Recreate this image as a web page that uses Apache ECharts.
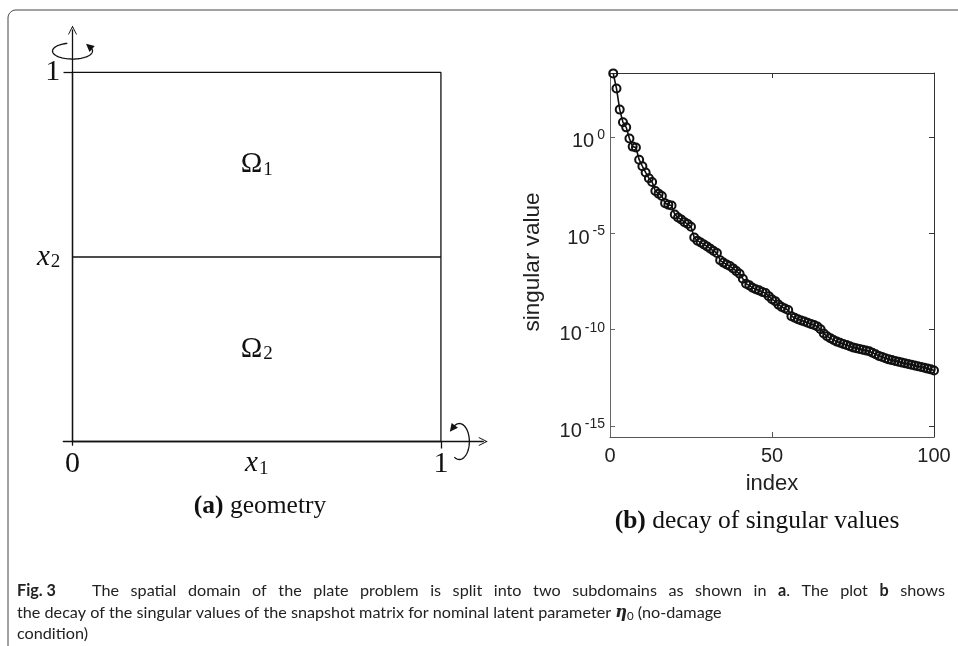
<!DOCTYPE html>
<html>
<head>
<meta charset="utf-8">
<script src="https://cdn.jsdelivr.net/npm/echarts@6/dist/echarts.min.js"></script>
<style>
  html, body { margin: 0; padding: 0; background: #fff; }
  #chart { width: 958px; height: 646px; }
</style>
</head>
<body>
<div id="chart"></div>
<script>
// ---- (b) decay of singular values ----
const indexRange = [0, 100];
const indexTicks = [50];
const indexLabels = [0, 50, 100];
// log10 of singular value for index 1..100
const logSingularValues = [
  3.30, 2.52, 1.42, 0.76, 0.50, -0.08, -0.50, -0.55, -1.18, -1.52,
  -1.84, -2.14, -2.34, -2.80, -2.94, -3.06, -3.44, -3.52, -3.56, -4.02,
  -4.18, -4.28, -4.42, -4.52, -4.66, -5.22, -5.38, -5.48, -5.58, -5.68,
  -5.80, -5.92, -6.02, -6.40, -6.52, -6.62, -6.70, -6.82, -6.96, -7.10,
  -7.36, -7.62, -7.70, -7.82, -7.90, -7.96, -8.04, -8.10, -8.26, -8.42,
  -8.52, -8.70, -8.82, -8.90, -8.98, -9.30, -9.38, -9.46, -9.52, -9.58,
  -9.64, -9.70, -9.76, -9.84, -9.98, -10.20, -10.34, -10.44, -10.54, -10.62,
  -10.68, -10.74, -10.80, -10.86, -10.92, -10.96, -11.00, -11.04, -11.08, -11.12,
  -11.20, -11.28, -11.36, -11.42, -11.48, -11.54, -11.58, -11.62, -11.66, -11.70,
  -11.74, -11.78, -11.82, -11.86, -11.90, -11.94, -11.98, -12.02, -12.06, -12.12
];
const logRange = [-15.57, 3.32];
const logTicks = [-15, -10, -5, 0];

// ---- (a) geometry: unit square split into two subdomains ----
const squareOutline = [[0, 0], [1, 0], [1, 1], [0, 1], [0, 0]];
const interfaceLine = [[0, 0.5], [1, 0.5]];
const subdomains = [
  { name: '1', pos: [0.5, 0.75] },
  { name: '2', pos: [0.5, 0.25] }
];
const geomXRange = [-0.025, 1.115];
const geomYRange = [-0.01, 1.115];
const geomXLabels = [0, 0.5, 1];
const geomYLabels = [0.5, 1];

const SANS = 'Liberation Sans, Arial, sans-serif';
const SERIF = 'Liberation Serif, Times New Roman, serif';
const CAP_FAMILY = 'Lato';
const CAP_SIZE = 16.2;
const INK = '#111';
const CAP_INK = '#222';

const chevron = 'path://M0,10 L5,0 L10,10 L9,10 L5,2.2 L1,10 Z';

const chart = echarts.init(document.getElementById('chart'), null, { renderer: 'canvas' });

const geomRich = {
  d: { fontFamily: SERIF, fontSize: 30, color: INK },
  i: { fontFamily: SERIF, fontStyle: 'italic', fontSize: 29, color: INK },
  sub: { fontFamily: SERIF, fontSize: 19, color: INK, verticalAlign: 'bottom', padding: [9, 0, 0, 1] }
};

const option = {
  animation: false,
  backgroundColor: '#fff',
  grid: [
    { left: 63.3, top: 30, width: 420, height: 415.2 },
    { left: 610, top: 73, width: 324, height: 364 }
  ],
  xAxis: [
    {
      type: 'value', gridIndex: 0, min: geomXRange[0], max: geomXRange[1],
      axisLine: { show: true, onZero: true, symbol: ['none', chevron], symbolSize: [9, 10],
        lineStyle: { color: INK, width: 1.3 } },
      axisTick: { show: true, customValues: [1], length: 7, lineStyle: { color: INK, width: 1.3 } },
      axisLabel: {
        show: true, customValues: geomXLabels, margin: 4, color: INK,
        formatter: v => v === 0.5 ? '{i|x}{sub|1}' : '{d|' + v + '}',
        rich: geomRich
      },
      splitLine: { show: false }
    },
    {
      type: 'value', gridIndex: 1, min: indexRange[0], max: indexRange[1], position: 'bottom',
      axisLine: { show: true, onZero: false, lineStyle: { color: '#555', width: 1 } },
      axisTick: { show: true, inside: true, length: 5, customValues: indexTicks, lineStyle: { color: '#555' } },
      axisLabel: { show: true, customValues: indexLabels, margin: 9, color: '#222', fontFamily: SANS, fontSize: 20 },
      splitLine: { show: false },
      name: 'index', nameLocation: 'middle', nameGap: 36,
      nameTextStyle: { fontFamily: SANS, fontSize: 22, color: '#222' }
    },
    {
      type: 'value', gridIndex: 1, min: indexRange[0], max: indexRange[1], position: 'top',
      axisLine: { show: true, onZero: false, lineStyle: { color: '#333', width: 1 } },
      axisTick: { show: true, inside: true, length: 5, customValues: indexTicks, lineStyle: { color: '#333' } },
      axisLabel: { show: false },
      splitLine: { show: false }
    }
  ],
  yAxis: [
    {
      type: 'value', gridIndex: 0, min: geomYRange[0], max: geomYRange[1],
      axisLine: { show: true, onZero: true, symbol: ['none', chevron], symbolSize: [9, 10],
        lineStyle: { color: INK, width: 1.3 } },
      axisTick: { show: true, customValues: [1], length: 9, lineStyle: { color: INK, width: 1.3 } },
      axisLabel: {
        show: true, customValues: geomYLabels, margin: 3, color: INK,
        formatter: v => v === 0.5 ? '{i|x}{sub|2}' : '{d|' + v + '}',
        rich: geomRich
      },
      splitLine: { show: false }
    },
    {
      type: 'value', gridIndex: 1, min: logRange[0], max: logRange[1], position: 'left',
      axisLine: { show: true, onZero: false, lineStyle: { color: '#666', width: 1 } },
      axisTick: { show: true, inside: true, length: 5, customValues: logTicks, lineStyle: { color: '#666' } },
      axisLabel: {
        show: true, customValues: logTicks, margin: 5, color: '#222',
        // power-of-ten label: base sits low, exponent raised; the spacer fixes the line box height
        formatter: v => '{b|10}{s|' + v + '}{z|\u200b}',
        rich: {
          b: { fontFamily: SANS, fontSize: 20, color: '#222', lineHeight: 20, verticalAlign: 'bottom' },
          s: { fontFamily: SANS, fontSize: 14, color: '#222', lineHeight: 14, verticalAlign: 'bottom', padding: [0, 0, 10, 3] },
          z: { fontSize: 1, lineHeight: 30, verticalAlign: 'middle' }
        }
      },
      splitLine: { show: false },
      name: 'singular value', nameLocation: 'middle', nameGap: 66,
      nameTextStyle: { fontFamily: SANS, fontSize: 22.5, color: '#222', padding: [0, 14, 0, 0] }
    },
    {
      type: 'value', gridIndex: 1, min: logRange[0], max: logRange[1], position: 'right',
      axisLine: { show: true, onZero: false, lineStyle: { color: '#333', width: 1 } },
      axisTick: { show: true, inside: true, length: 5, customValues: logTicks, lineStyle: { color: '#333' } },
      axisLabel: { show: false },
      splitLine: { show: false }
    }
  ],
  series: [
    {
      type: 'line', xAxisIndex: 0, yAxisIndex: 0,
      data: squareOutline, symbol: 'none', silent: true,
      lineStyle: { color: INK, width: 1.3 }
    },
    {
      type: 'line', xAxisIndex: 0, yAxisIndex: 0,
      data: interfaceLine, symbol: 'none', silent: true,
      lineStyle: { color: INK, width: 1.3 }
    },
    {
      type: 'scatter', xAxisIndex: 0, yAxisIndex: 0,
      data: subdomains.map(d => ({ value: d.pos, name: d.name })),
      symbolSize: 1, itemStyle: { color: '#fff', opacity: 0 }, silent: true,
      label: {
        show: true, position: 'inside', color: INK, opacity: 1,
        formatter: p => '{o|\u03A9}{sub|' + p.name + '}',
        rich: {
          o: { fontFamily: SERIF, fontSize: 29, color: INK },
          sub: { fontFamily: SERIF, fontSize: 19, color: INK, verticalAlign: 'bottom', padding: [10, 0, 0, 1] }
        }
      }
    },
    {
      type: 'line', xAxisIndex: 1, yAxisIndex: 1,
      data: logSingularValues.map((v, i) => [i + 1, v]),
      symbol: 'circle', symbolSize: 8,
      itemStyle: { color: 'rgba(0,0,0,0)', borderColor: INK, borderWidth: 2 },
      lineStyle: { color: INK, width: 1.6 }
    }
  ]
};

chart.setOption(option);

// rotation symbols around the geometry axes, placed in the geometry panel's coordinates
function rotationArrow(center, rx, ry, a0, a1) {
  const pts = [];
  const n = 60;
  for (let k = 0; k <= n; k++) {
    const t = (a0 + (a1 - a0) * k / n) * Math.PI / 180;
    pts.push([center[0] + rx * Math.cos(t), center[1] + ry * Math.sin(t)]);
  }
  const e = pts[n], p = pts[n - 2];
  let dx = e[0] - p[0], dy = e[1] - p[1];
  const L = Math.hypot(dx, dy); dx /= L; dy /= L;
  const head = [
    [e[0] + dx * 5, e[1] + dy * 5],
    [e[0] - dx * 3 - dy * 4, e[1] - dy * 3 + dx * 4],
    [e[0] - dx * 3 + dy * 4, e[1] - dy * 3 - dx * 4]
  ];
  return [
    { type: 'polyline', silent: true, shape: { points: pts }, style: { stroke: INK, lineWidth: 1.3, fill: null } },
    { type: 'polygon', silent: true, shape: { points: head }, style: { fill: INK } }
  ];
}

// outer frame: left and top rules joined by a rounded corner
function framePoints() {
  const pts = [[8, 646]];
  const r = 8, cx = 16, cy = 18;
  for (let k = 0; k <= 12; k++) {
    const t = Math.PI + (Math.PI / 2) * k / 12;
    pts.push([cx + r * Math.cos(t), cy + r * Math.sin(t)]);
  }
  pts.push([958, 10]);
  return pts;
}

// justified caption line: words made of [text, bold] pieces, spread between x0 and x1
const measureCtx = document.createElement('canvas').getContext('2d');
function capFont(bold) {
  return (bold ? 'bold ' : '') + CAP_SIZE + 'px ' + CAP_FAMILY;
}
function pieceWidth(piece) {
  measureCtx.font = capFont(piece[1]);
  return measureCtx.measureText(piece[0]).width;
}
function justifiedWords(words, x0, x1, y) {
  const widths = words.map(w => w.reduce((s, p) => s + pieceWidth(p), 0));
  const total = widths.reduce((s, w) => s + w, 0);
  const gap = (x1 - x0 - total) / (words.length - 1);
  const out = [];
  let x = x0;
  words.forEach((w, wi) => {
    let px = x;
    w.forEach(p => {
      out.push({
        type: 'text', silent: true, x: px, y: y,
        style: { text: p[0], verticalAlign: 'middle', font: capFont(p[1]), fill: CAP_INK }
      });
      px += pieceWidth(p);
    });
    x += widths[wi] + gap;
  });
  return out;
}

const captionWords = [
  'The', 'spatial', 'domain', 'of', 'the', 'plate', 'problem', 'is', 'split', 'into', 'two',
  'subdomains', 'as', 'shown', 'in'
].map(t => [[t, false]]).concat([
  [['a', true], ['.', false]], [['The', false]], [['plot', false]], [['b', true]], [['shows', false]]
]);

const topRot = chart.convertToPixel({ gridIndex: 0 }, [0, 1.058]);
const rightRot = chart.convertToPixel({ gridIndex: 0 }, [1.05, 0]);

const graphics = [
  {
    type: 'polyline', silent: true,
    shape: { points: framePoints() },
    style: { stroke: '#444', lineWidth: 1, fill: null }
  },
  ...rotationArrow(topRot, 20, 8, 255, -30),
  ...rotationArrow(rightRot, 10, 18, 120, -130),
  {
    type: 'text', silent: true, x: 260, y: 506,
    style: {
      text: '{b|(a)} geometry', align: 'center', verticalAlign: 'middle',
      fontFamily: SERIF, fontSize: 25.5, fill: INK,
      rich: { b: { fontFamily: SERIF, fontSize: 25.5, fontWeight: 'bold', fill: INK } }
    }
  },
  {
    type: 'text', silent: true, x: 757, y: 521,
    style: {
      text: '{b|(b)} decay of singular values', align: 'center', verticalAlign: 'middle',
      fontFamily: SERIF, fontSize: 25.5, fill: INK,
      rich: { b: { fontFamily: SERIF, fontSize: 25.5, fontWeight: 'bold', fill: INK } }
    }
  },
  {
    type: 'text', silent: true, x: 17, y: 591,
    style: { text: 'Fig. 3', verticalAlign: 'middle', font: capFont(true), fill: CAP_INK }
  },
  ...justifiedWords(captionWords, 92, 945, 591),
  {
    type: 'text', silent: true, x: 17, y: 613,
    style: {
      text: 'the decay of the singular values of the snapshot matrix for nominal latent parameter {e|\u03B7}{s|0} (no-damage',
      verticalAlign: 'middle', fontFamily: CAP_FAMILY, fontSize: CAP_SIZE, fill: CAP_INK,
      rich: {
        e: { fontFamily: 'DejaVu Serif', fontSize: CAP_SIZE, fontWeight: 'bold', fontStyle: 'italic', fill: CAP_INK },
        s: { fontFamily: CAP_FAMILY, fontSize: 11.5, fill: CAP_INK, verticalAlign: 'bottom', padding: [6, 0, 0, 0] }
      }
    }
  },
  {
    type: 'text', silent: true, x: 17, y: 634,
    style: { text: 'condition)', verticalAlign: 'middle', fontFamily: CAP_FAMILY, fontSize: CAP_SIZE, fill: CAP_INK }
  }
];

chart.setOption({ graphic: graphics });
</script>
</body>
</html>
